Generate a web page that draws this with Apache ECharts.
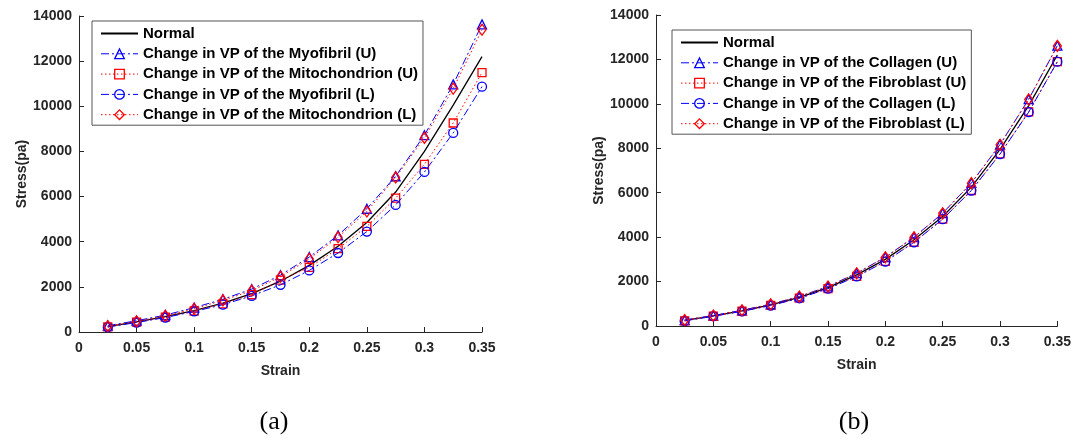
<!DOCTYPE html>
<html>
<head>
<meta charset="utf-8">
<style>html,body{margin:0;padding:0;background:#fff;}#c{width:1074px;height:439px;}</style>
<script src="https://cdn.jsdelivr.net/npm/echarts@6/dist/echarts.min.js"></script>
</head>
<body>
<div id="c"></div>
<script>
const strain = [0.025,0.05,0.075,0.1,0.125,0.15,0.175,0.2,0.225,0.25,0.275,0.3,0.325,0.35];
const xTicks = [0,0.05,0.1,0.15,0.2,0.25,0.3,0.35];
const yTicks = [0,2000,4000,6000,8000,10000,12000,14000];

// Panel (a)
const aNames = ['Normal','Change in VP of the Myofibril (U)','Change in VP of the Mitochondrion (U)','Change in VP of the Myofibril (L)','Change in VP of the Mitochondrion (L)'];
const aNormal      = [240,450,680,950,1280,1700,2250,2950,3800,4850,6200,8000,10050,12200];
const aMyofibrilU  = [280,500,750,1080,1450,1900,2520,3320,4280,5460,6900,8720,10970,13630];
const aMitoU       = [230,440,660,930,1250,1650,2300,2860,3690,4680,5930,7430,9260,11490];
const aMyofibrilL  = [220,420,640,910,1210,1600,2090,2730,3500,4450,5630,7090,8820,10870];
const aMitoL       = [260,470,720,1030,1400,1830,2450,3245,4200,5340,6850,8600,10780,13390];

// Panel (b)
const bNames = ['Normal','Change in VP of the Collagen (U)','Change in VP of the Fibroblast (U)','Change in VP of the Collagen (L)','Change in VP of the Fibroblast (L)'];
const bNormal      = [250,455,685,950,1290,1730,2300,3000,3880,4930,6250,7950,9920,12200];
const bCollagenU   = [270,470,710,980,1330,1780,2380,3100,4000,5080,6440,8170,10210,12620];
const bFibroU      = [235,440,665,925,1255,1685,2235,2910,3770,4810,6100,7750,9640,11900];
const bCollagenL   = [230,440,660,920,1250,1680,2230,2900,3770,4810,6100,7740,9630,11900];
const bFibroL      = [265,470,705,975,1325,1775,2375,3090,3990,5070,6430,8160,10200,12610];

const axisColor = '#262626';
const labelFont = {color: axisColor, fontSize: 14, fontWeight: 'bold', fontFamily: 'Liberation Sans, Arial, sans-serif'};
const pairs = arr => arr.map((v,i) => [strain[i], v]);

function xAxis(gridIndex, gap) {
  return {
    type: 'value', gridIndex, min: xTicks[0], max: xTicks[xTicks.length-1], interval: xTicks[1]-xTicks[0],
    name: 'Strain', nameLocation: 'middle', nameGap: gap,
    nameTextStyle: labelFont,
    axisLine: {show: true, onZero: false, lineStyle: {color: axisColor, width: 1}},
    axisTick: {show: true, inside: true, length: 5, lineStyle: {color: axisColor}},
    axisLabel: Object.assign({margin: 9, formatter: v => String(+v.toFixed(2))}, labelFont),
    splitLine: {show: false}
  };
}
function yAxis(gridIndex, gap) {
  return {
    type: 'value', gridIndex, min: yTicks[0], max: yTicks[yTicks.length-1], interval: yTicks[1]-yTicks[0],
    name: 'Stress(pa)', nameLocation: 'middle', nameGap: gap,
    nameTextStyle: labelFont,
    axisLine: {show: true, onZero: false, lineStyle: {color: axisColor, width: 1}},
    axisTick: {show: true, inside: true, length: 5, lineStyle: {color: axisColor}},
    axisLabel: Object.assign({margin: 7, formatter: v => String(Math.round(v))}, labelFont),
    splitLine: {show: false}
  };
}

const styles = [
  {color: '#000000', type: 'solid', symbol: 'none', width: 1.3},
  {color: '#0000FF', type: [8,3,2,3], symbol: 'triangle', width: 1},
  {color: '#FF0000', type: [1.5,2.5], symbol: 'rect', width: 1},
  {color: '#0000FF', type: [8,3,2,3], symbol: 'circle', width: 1},
  {color: '#FF0000', type: [1.5,2.5], symbol: 'diamond', width: 1}
];
const symSize = {triangle: 9, rect: 8, circle: 9, diamond: [8,11]};

function makeSeries(names, arrays, idx) {
  return names.map((n, k) => {
    const s = styles[k];
    return {
      name: n, type: 'line', xAxisIndex: idx, yAxisIndex: idx,
      data: pairs(arrays[k]),
      symbol: s.symbol, symbolSize: symSize[s.symbol] || 0, showSymbol: s.symbol !== 'none',
      lineStyle: {color: s.color, type: s.type, width: s.width},
      itemStyle: {color: 'rgba(255,255,255,0)', borderColor: s.color, borderWidth: 1.3},
      emphasis: {disabled: true},
      animation: false, z: 2 + k
    };
  });
}

function legend(names, left, top) {
  return {
    orient: 'vertical', left, top,
    data: names.map((n,k) => ({
      name: n,
      itemStyle: k === 0 ? {color: 'rgba(0,0,0,0)', borderColor: 'rgba(0,0,0,0)', borderWidth: 0}
                         : {color: 'rgba(255,255,255,0)', borderColor: styles[k].color, borderWidth: 1.3},
      lineStyle: {color: styles[k].color, type: styles[k].type, width: k === 0 ? 2 : 1}
    })),
    itemWidth: 37, itemHeight: 12, itemGap: 5.3,
    padding: [5, 5, 3, 8],
    borderColor: '#555', borderWidth: 1, backgroundColor: '#fff',
    textStyle: {color: '#000', fontSize: 15, fontWeight: 'bold', fontFamily: 'Liberation Sans, Arial, sans-serif', lineHeight: 15, padding: [0,0,0,0]},
    selectedMode: false
  };
}

const chart = echarts.init(document.getElementById('c'), null, {renderer: 'canvas'});
chart.setOption({
  animation: false,
  backgroundColor: '#fff',
  grid: [
    {left: 79, top: 16, width: 403, height: 316},
    {left: 656, top: 15, width: 402, height: 311}
  ],
  xAxis: [xAxis(0, 32), xAxis(1, 32)],
  yAxis: [yAxis(0, 49), yAxis(1, 50)],
  legend: [legend(aNames, 92, 21), legend(bNames, 672, 30)],
  title: [
    {text: '(a)', left: 269, top: 404, textAlign: 'center', textStyle: {fontSize: 26, fontWeight: 'normal', color: '#000', fontFamily: 'Liberation Serif, Times New Roman, serif'}},
    {text: '(b)', left: 849, top: 404, textAlign: 'center', textStyle: {fontSize: 26, fontWeight: 'normal', color: '#000', fontFamily: 'Liberation Serif, Times New Roman, serif'}}
  ],
  series: [
    ...makeSeries(aNames, [aNormal, aMyofibrilU, aMitoU, aMyofibrilL, aMitoL], 0),
    ...makeSeries(bNames, [bNormal, bCollagenU, bFibroU, bCollagenL, bFibroL], 1)
  ]
});
</script>
</body>
</html>
